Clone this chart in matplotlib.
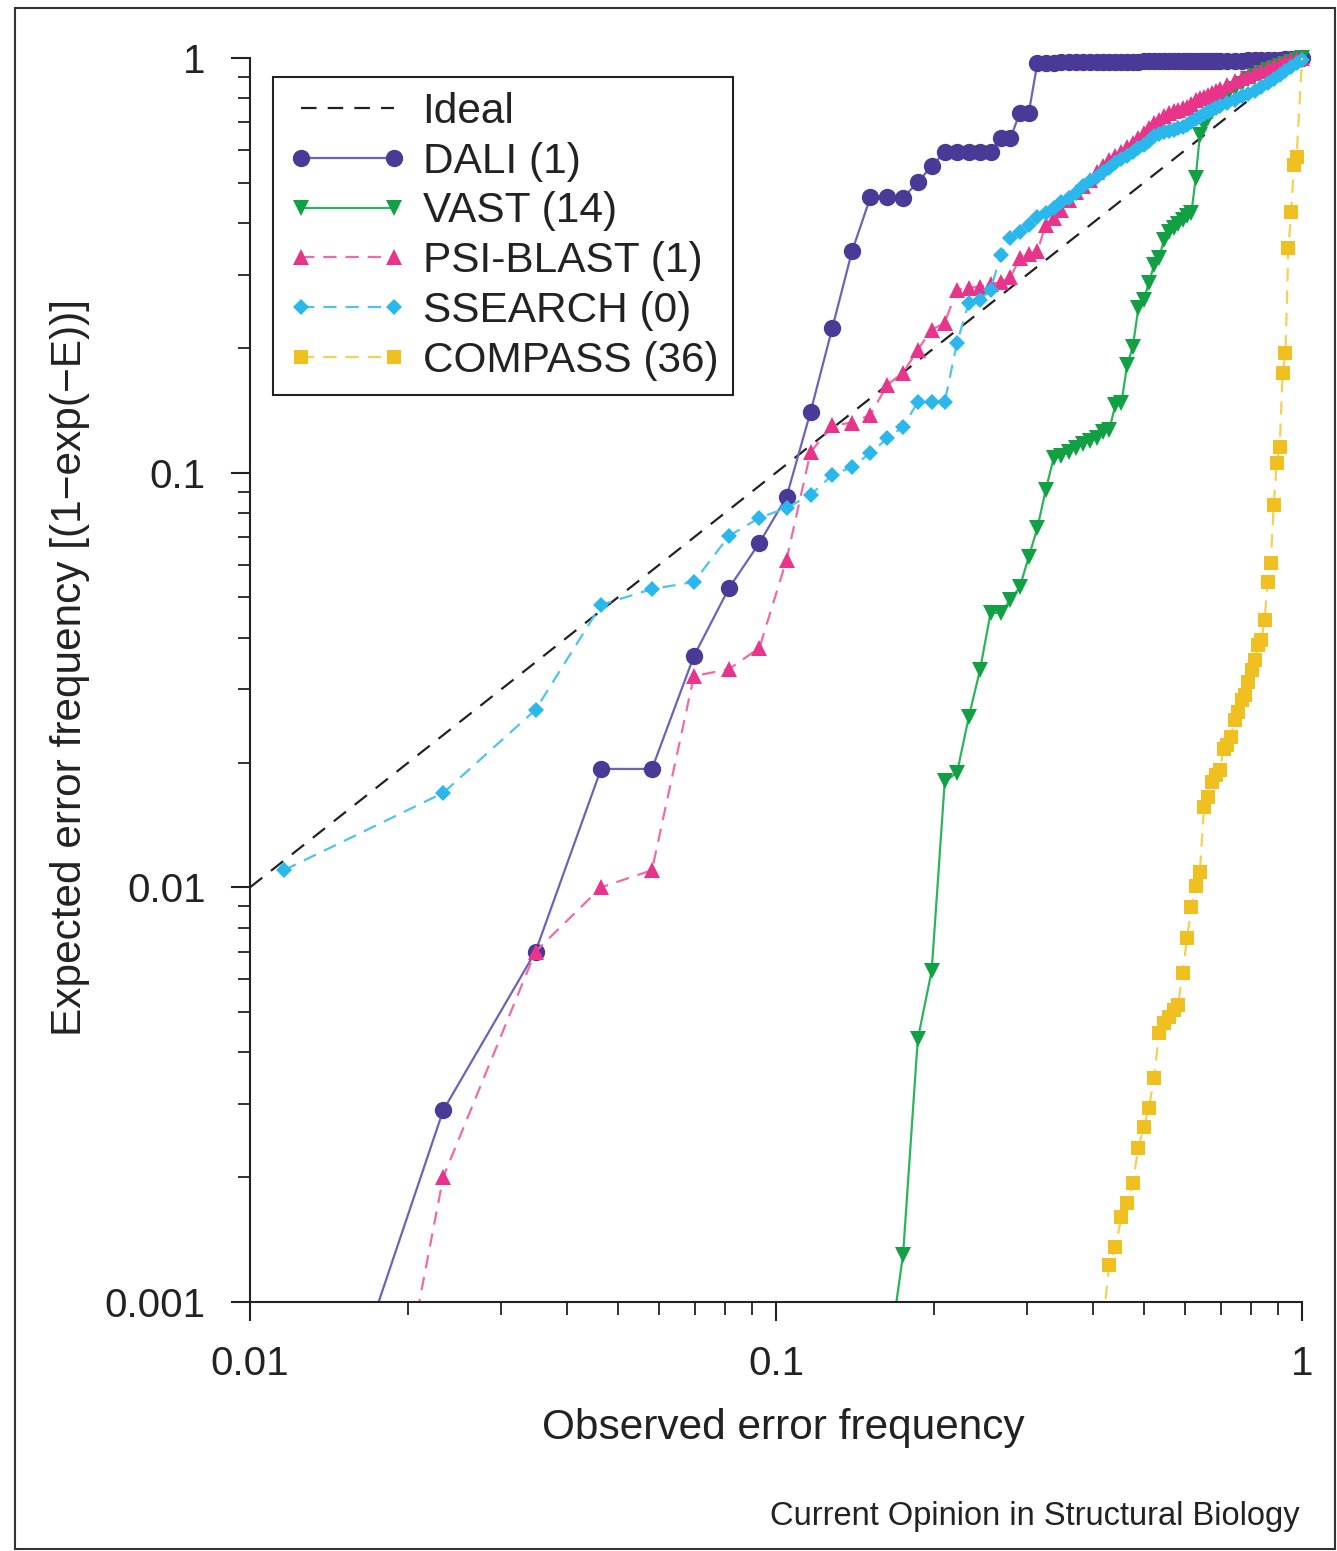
import matplotlib
matplotlib.use("Agg")
import matplotlib.pyplot as plt
from matplotlib.patches import Rectangle
from matplotlib.ticker import LogLocator, NullFormatter, FixedLocator, FixedFormatter

plt.rcParams['font.family'] = ['Liberation Sans', 'DejaVu Sans']

# observed error frequency grid (k/86), every point up to 0.70, then every second one
obs_freq = [0.0116, 0.0233, 0.0349, 0.0465, 0.0581, 0.0698, 0.0814, 0.0930, 0.1047, 0.1163,
            0.1279, 0.1395, 0.1512, 0.1628, 0.1744, 0.1860, 0.1977, 0.2093, 0.2209, 0.2326,
            0.2442, 0.2558, 0.2674, 0.2791, 0.2907, 0.3023, 0.3140, 0.3256, 0.3372, 0.3488,
            0.3605, 0.3721, 0.3837, 0.3953, 0.4070, 0.4186, 0.4302, 0.4419, 0.4535, 0.4651,
            0.4767, 0.4884, 0.5000, 0.5116, 0.5233, 0.5349, 0.5465, 0.5581, 0.5698, 0.5814,
            0.5930, 0.6047, 0.6163, 0.6279, 0.6395, 0.6512, 0.6628, 0.6744, 0.6860, 0.6977,
            0.7209, 0.7442, 0.7674, 0.7907, 0.8140, 0.8372, 0.8605, 0.8837, 0.9070, 0.9302,
            0.9535, 0.9767, 1.0]

dali_y = [0.00021, 0.0029, 0.0070, 0.0193, 0.0193, 0.0361, 0.0527, 0.0677, 0.0874, 0.140,
          0.223, 0.342, 0.462, 0.462, 0.460, 0.502, 0.549, 0.593, 0.593, 0.593,
          0.593, 0.593, 0.641, 0.641, 0.737, 0.737, 0.972, 0.974, 0.975, 0.976,
          0.977, 0.977, 0.978, 0.978, 0.978, 0.979, 0.979, 0.979, 0.980, 0.980,
          0.980, 0.980, 0.981, 0.981, 0.981, 0.981, 0.982, 0.982, 0.982, 0.982,
          0.983, 0.983, 0.983, 0.983, 0.984, 0.984, 0.984, 0.984, 0.985, 0.985,
          0.985, 0.986, 0.986, 0.987, 0.987, 0.988, 0.988, 0.989, 0.990, 0.992,
          0.994, 0.997, 1.0]

# VAST starts at the 14th grid point
vast_y = [0.0007, 0.0013, 0.0043, 0.0063, 0.0180, 0.0189, 0.0258, 0.0334, 0.0459, 0.0459,
          0.0493, 0.0530, 0.0626, 0.0736, 0.0908, 0.1085, 0.110, 0.112, 0.115, 0.117,
          0.119, 0.121, 0.125, 0.127, 0.146, 0.147, 0.182, 0.201, 0.249, 0.261,
          0.287, 0.317, 0.330, 0.364, 0.381, 0.389, 0.398, 0.407, 0.416, 0.423,
          0.514, 0.652, 0.689, 0.717, 0.741, 0.762, 0.783,
          0.810, 0.842, 0.866, 0.890, 0.905, 0.920, 0.936, 0.946, 0.957, 0.967,
          0.978, 0.989, 1.0]

psiblast_y = [0.00002, 0.0020, 0.0070, 0.0100, 0.0110, 0.0323, 0.0336, 0.0378, 0.0616, 0.112,
              0.130, 0.132, 0.138, 0.163, 0.174, 0.198, 0.221, 0.230, 0.276, 0.279,
              0.281, 0.285, 0.288, 0.296, 0.329, 0.337, 0.342, 0.396, 0.411, 0.430,
              0.455, 0.475, 0.491, 0.508, 0.531, 0.549, 0.568, 0.580, 0.593, 0.610,
              0.624, 0.641, 0.659, 0.678, 0.697, 0.709, 0.725, 0.737, 0.745, 0.749,
              0.758, 0.762, 0.774, 0.792, 0.801, 0.805, 0.814, 0.823, 0.833, 0.842,
              0.861, 0.880, 0.895, 0.905, 0.920, 0.930, 0.946, 0.956, 0.967, 0.978,
              0.989, 0.994, 1.0]

ssearch_y = [0.0110, 0.0169, 0.0268, 0.0480, 0.0524, 0.0545, 0.0704, 0.0778, 0.0822, 0.0884,
             0.0987, 0.1032, 0.1116, 0.121, 0.129, 0.148, 0.148, 0.148, 0.206, 0.257,
             0.261, 0.276, 0.335, 0.368, 0.381, 0.396, 0.414, 0.423, 0.435, 0.449,
             0.460, 0.472, 0.491, 0.505, 0.516, 0.531, 0.543, 0.558, 0.571, 0.580,
             0.593, 0.607, 0.617, 0.631, 0.649, 0.656, 0.663, 0.667, 0.670, 0.678,
             0.682, 0.689, 0.701, 0.713, 0.721, 0.733, 0.741, 0.749, 0.758, 0.766,
             0.779, 0.792, 0.810, 0.819, 0.833, 0.851, 0.870, 0.890, 0.910, 0.930,
             0.951, 0.973, 0.990]

compass_x = [0.4186, 0.4302, 0.4419, 0.4535, 0.4651, 0.4767, 0.4884, 0.5000, 0.5116, 0.5233,
             0.5349, 0.5465, 0.5581, 0.5698, 0.5814, 0.5930, 0.6047, 0.6163, 0.6279, 0.6395,
             0.6512, 0.6628, 0.6744, 0.6860, 0.6977, 0.7093, 0.7209, 0.7326, 0.7442, 0.7558,
             0.7674, 0.7791, 0.7907, 0.8023, 0.8140, 0.8256, 0.8372, 0.8488, 0.8605, 0.8721,
             0.8837, 0.8953, 0.9070, 0.9186, 0.9302, 0.9419, 0.9535, 0.9651, 0.9767, 1.0]
compass_y = [0.0009, 0.00123, 0.00136, 0.0016, 0.00173, 0.00194, 0.00235, 0.00264, 0.00294, 0.00347,
             0.00446, 0.00471, 0.00487, 0.00506, 0.0052, 0.00622, 0.00755, 0.00897, 0.0101, 0.0109,
             0.0156, 0.0165, 0.0179, 0.0187, 0.0192, 0.0215, 0.0221, 0.0231, 0.0253, 0.0265,
             0.0283, 0.0291, 0.0313, 0.0334, 0.0354, 0.0384, 0.0395, 0.0441, 0.0545, 0.0606,
             0.0836, 0.1055, 0.1153, 0.174, 0.194, 0.348, 0.425, 0.552, 0.577, 1.0]

ideal_x = [0.01, 1.0]
ideal_y = [0.01, 1.0]

labels = ['Ideal', 'DALI (1)', 'VAST (14)', 'PSI-BLAST (1)', 'SSEARCH (0)', 'COMPASS (36)']
x_ticks = [0.01, 0.1, 1]
x_ticklabels = ['0.01', '0.1', '1']
y_ticks = [0.001, 0.01, 0.1, 1]
y_ticklabels = ['0.001', '0.01', '0.1', '1']

fig = plt.figure(figsize=(13.37, 15.51), dpi=100)
ax = fig.add_axes([0.18699, 0.16054, 0.78684, 0.80206])
ax.set_xscale('log')
ax.set_yscale('log')

lines = []
lines += ax.plot(ideal_x, ideal_y, color='#222222', lw=1.6, dashes=(7, 5), label=labels[0])
lines += ax.plot(obs_freq, dali_y, color='#6e62b8', lw=1.6, marker='o', ms=12.5,
                 mfc='#4a3a98', mec='#4a3a98', mew=0, label=labels[1])
lines += ax.plot(obs_freq[13:], vast_y, color='#2cb45c', lw=1.6, marker='v', ms=12,
                 mfc='#12a044', mec='#12a044', mew=0, label=labels[2])
lines += ax.plot(obs_freq, psiblast_y, color='#f06aa6', lw=1.6, dashes=(6, 4), marker='^', ms=12,
                 mfc='#e8348a', mec='#e8348a', mew=0, label=labels[3])
lines += ax.plot(obs_freq, ssearch_y, color='#4cc4ef', lw=1.6, dashes=(6, 4), marker='D', ms=8.5,
                 mfc='#2ab8ec', mec='#2ab8ec', mew=0, label=labels[4])
lines += ax.plot(compass_x, compass_y, color='#f5d055', lw=1.6, dashes=(6, 4), marker='s', ms=10,
                 mfc='#f0c020', mec='#f0c020', mew=0, markevery=list(range(len(compass_x) - 1)),
                 label=labels[5])

# let markers spill over the top/right edge, clip only at the bottom and left
for ln in lines:
    ln.set_clip_path(Rectangle((0, 0), 1.03, 1.03, transform=ax.transAxes))

ax.set_xlim(0.01, 1)
ax.set_ylim(0.001, 1)

for side in ['top', 'right']:
    ax.spines[side].set_visible(False)
for side in ['left', 'bottom']:
    ax.spines[side].set_linewidth(1.5)
    ax.spines[side].set_color('#222222')

ax.xaxis.set_major_locator(FixedLocator(x_ticks))
ax.xaxis.set_major_formatter(FixedFormatter(x_ticklabels))
ax.yaxis.set_major_locator(FixedLocator(y_ticks))
ax.yaxis.set_major_formatter(FixedFormatter(y_ticklabels))
ax.xaxis.set_minor_locator(LogLocator(base=10, subs=range(2, 10)))
ax.yaxis.set_minor_locator(LogLocator(base=10, subs=range(2, 10)))
ax.xaxis.set_minor_formatter(NullFormatter())
ax.yaxis.set_minor_formatter(NullFormatter())

ax.tick_params(which='major', direction='out', length=14, width=1.5, color='#222222',
               labelsize=29, labelcolor='#222222')
ax.tick_params(which='minor', direction='out', length=9, width=1.3, color='#222222')
ax.tick_params(axis='x', which='major', pad=17)
ax.tick_params(axis='y', which='major', pad=18)

leg = ax.legend(loc='upper left', bbox_to_anchor=(0.0219, 0.9847), borderaxespad=0,
                numpoints=2, fontsize=30.5, handlelength=2.8, handletextpad=0.38,
                labelspacing=0.23, borderpad=0.35, fancybox=False, framealpha=1,
                edgecolor='#222222')
leg.get_frame().set_linewidth(1.5)
for t in leg.get_texts():
    t.set_color('#222222')

fig.text(783 / 1337, 1 - 1428 / 1551, 'Observed error frequency', fontsize=30.5,
         ha='center', va='center', color='#222222')
fig.text(70 / 1337, 1 - 668 / 1551, 'Expected error frequency [(1\u2212exp(\u2212E))]',
         fontsize=30.5, rotation=90, ha='center', va='center', color='#222222')
fig.text(1300 / 1337, 1 - 1517 / 1551, 'Current Opinion in Structural Biology', fontsize=23.5,
         ha='right', va='center', color='#222222')

fig.patches.append(Rectangle((15 / 1337, 2 / 1551), 1320 / 1337, 1541 / 1551,
                             transform=fig.transFigure, fill=False, lw=1.5,
                             edgecolor='#333333'))

fig.savefig('out.png', dpi=100)
